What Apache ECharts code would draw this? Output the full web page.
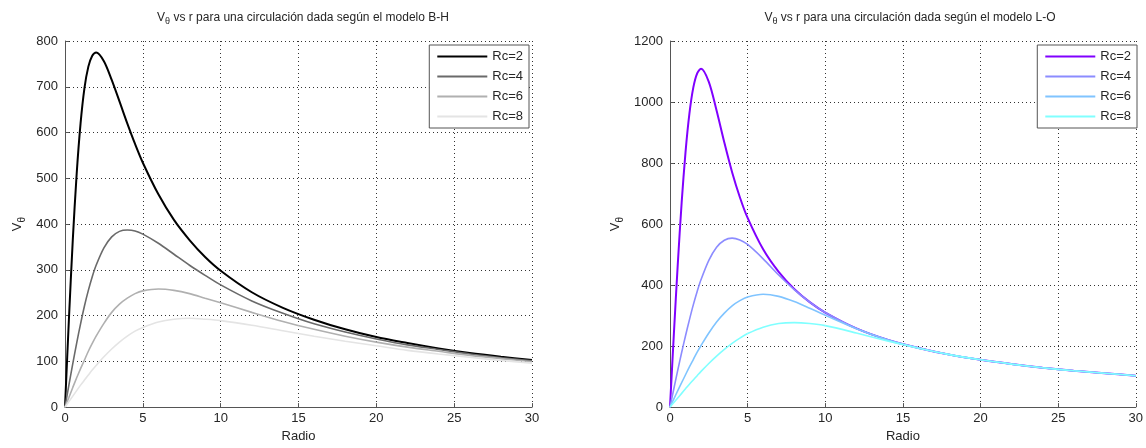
<!DOCTYPE html>
<html><head><meta charset="utf-8">
<script src="https://cdn.jsdelivr.net/npm/echarts@6/dist/echarts.min.js"></script>
<style>html,body{margin:0;padding:0;background:#fff}#c{width:1146px;height:448px}</style>
</head><body><div id="c"></div>
<script>
const radio = [0,0.25,0.5,0.75,1,1.25,1.5,1.75,2,2.5,3,3.5,4,4.5,5,6,7,8,9,10,12,14,16,18,20,22,24,26,28,30];
const names = ['Rc=2','Rc=4','Rc=6','Rc=8'];
const xTicks = [0,5,10,15,20,25,30];
// Modelo B-H
const bh_rc2 = [0,191,365,510,620,697,744,768,775,756,715,668,620,575,534,465,409,365,328,298,251,217,191,170,153,140,128,118,110,103];
const bh_rc4 = [0,48,95,140,182,221,255,285,310,348,372,384,387,385,378,358,334,310,288,267,232,205,182,164,149,136,126,116,108,101];
const bh_rc6 = [0,21,43,64,84,103,122,139,155,183,207,225,238,248,254,258,255,248,238,228,207,187,170,155,142,131,122,113,106,99];
const bh_rc8 = [0,12,24,36,48,59,70,81,91,110,127,142,155,166,174,186,192,194,192,189,179,167,155,144,134,124,116,109,102,96];
// Modelo L-O
const lo_rc2 = [0,241,468,670,836,962,1047,1094,1109,1066,972,867,770,688,620,517,443,387,344,310,258,221,194,172,155,141,129,119,111,103];
const lo_rc4 = [0,61,121,179,234,286,335,379,418,481,524,547,554,548,533,486,433,385,344,310,258,221,194,172,155,141,129,119,111,103];
const lo_rc6 = [0,27,54,80,106,132,156,180,202,243,279,308,332,349,361,370,363,346,324,301,257,221,194,172,155,141,129,119,111,103];
const lo_rc8 = [0,15,30,45,60,75,89,103,117,143,167,189,209,226,241,262,274,277,274,267,243,217,193,172,155,141,129,119,111,103];

const bhColors = ['#000000','#6a6a6a','#b0b0b0','#e4e4e4'];
const loColors = ['#8000ff','#8c8cff','#80c4ff','#80ffff'];

const chart = echarts.init(document.getElementById('c'), null, {renderer:'canvas'});
const FONT = 'Liberation Sans, Arial, sans-serif';
const txt = {fontFamily: FONT, fontSize: 12, color: '#262626', fontWeight:'normal'};

function mkX(gi){
  return {type:'value', gridIndex:gi, min:0, max:30, interval:5,
    name:'Radio', nameLocation:'middle', nameGap:22, nameTextStyle:{...txt, fontSize:13},
    axisLine:{show:true, onZero:false, lineStyle:{color:'#555', width:1}},
    axisTick:{show:true, inside:true, length:4, lineStyle:{color:'#555'}},
    axisLabel:{...txt, fontSize:13, margin:5, formatter:v=>String(v)},
    splitLine:{show:true, lineStyle:{color:'#333', type:[1,3], width:1}}};
}
function mkY(gi, max, interval){
  return {type:'value', gridIndex:gi, min:0, max:max, interval:interval,
    name:'{v|V}{s|θ}', nameLocation:'middle', nameGap: max>1000?45:38, nameRotate:90,
    nameTextStyle:{rich:{v:{...txt, fontSize:13}, s:{...txt, fontSize:10, padding:[10,0,0,0]}}},
    axisLine:{show:true, onZero:false, lineStyle:{color:'#555', width:1}},
    axisTick:{show:true, inside:true, length:4, lineStyle:{color:'#555'}},
    axisLabel:{...txt, fontSize:13, margin:7, formatter:v=>String(v)},
    splitLine:{show:true, lineStyle:{color:'#333', type:[1,3], width:1}}};
}
function mkSeries(arrs, colors, gi){
  return arrs.map((a,i)=>({type:'line', name:names[i], xAxisIndex:gi, yAxisIndex:gi,
    data: radio.map((r,k)=>[r,a[k]]), smooth:0.3, showSymbol:false, symbol:'none',
    lineStyle:{color:colors[i], width:i===0?2:1.6}, itemStyle:{color:colors[i]},
    z: 10+i}));
}
const legendCommon = {orient:'vertical', backgroundColor:'#fff', borderColor:'#555', borderWidth:1,
  padding:[5,6,5,8], itemGap:7, itemWidth:50, itemHeight:2, icon:'rect', textStyle:{...txt, fontSize:13}};

chart.setOption({
  animation:false,
  title:[
    {text:'{v|V}{s|θ}{v| vs r para una circulación dada según el modelo B-H}', left:298, top:4, textAlign:'center',
     textStyle:{fontWeight:'normal', rich:{v:{...txt, fontSize:12}, s:{...txt, fontSize:9, padding:[8,0,0,0]}}}},
    {text:'{v|V}{s|θ}{v| vs r para una circulación dada según el modelo L-O}', left:905, top:4, textAlign:'center',
     textStyle:{fontWeight:'normal', rich:{v:{...txt, fontSize:12}, s:{...txt, fontSize:9, padding:[8,0,0,0]}}}}
  ],
  grid:[
    {left:65, top:41, width:467, height:369},
    {left:670, top:41, width:470, height:369}
  ],
  legend:[
    {...legendCommon, right:1146-529, top:45, data:names.map((n,i)=>({name:n, itemStyle:{color:bhColors[i]}}))},
    {...legendCommon, right:9, top:45, data:names.map((n,i)=>({name:n, itemStyle:{color:loColors[i]}}))}
  ],
  xAxis:[mkX(0), mkX(1)],
  yAxis:[mkY(0,800,100), mkY(1,1200,200)],
  series:[...mkSeries([bh_rc2,bh_rc4,bh_rc6,bh_rc8], bhColors, 0), ...mkSeries([lo_rc2,lo_rc4,lo_rc6,lo_rc8], loColors, 1)]
});
</script></body></html>
